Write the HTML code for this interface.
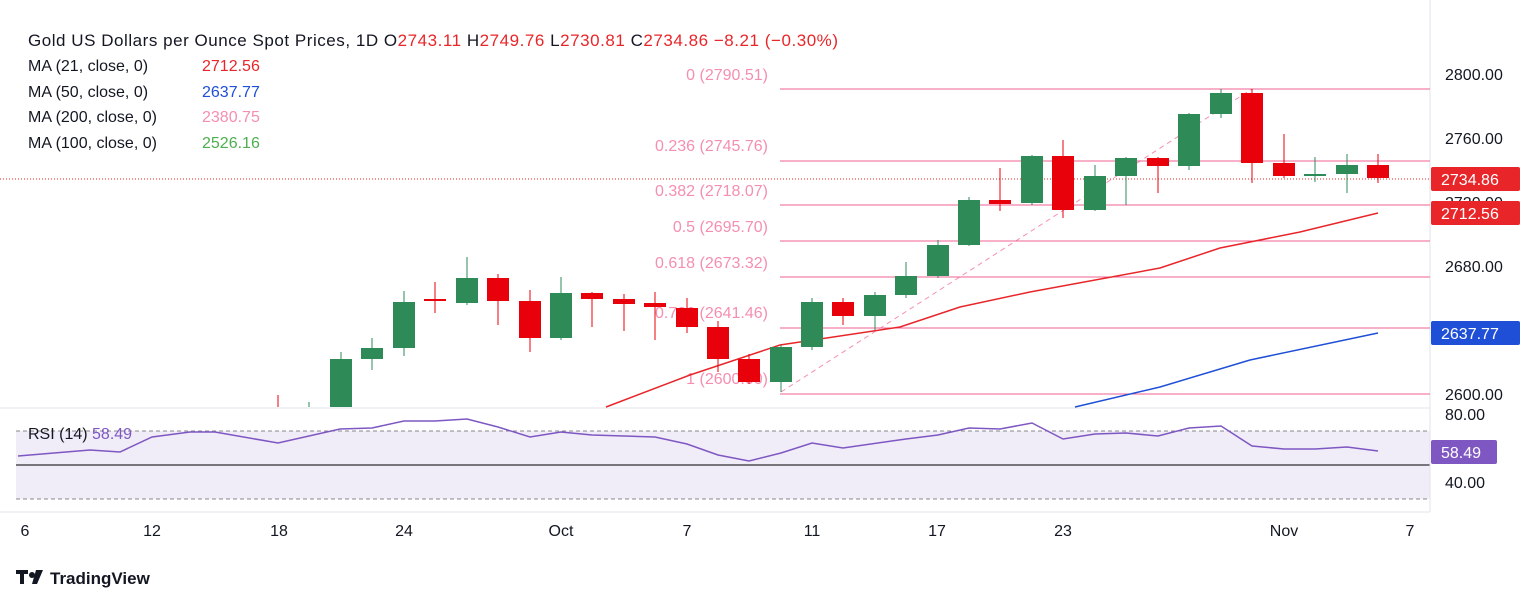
<!DOCTYPE html>
<html><head><meta charset="utf-8"><style>
body{margin:0;background:#fff;font-family:"Liberation Sans",sans-serif}
svg text{font-family:"Liberation Sans",sans-serif}
</style></head><body>
<svg width="1536" height="603" viewBox="0 0 1536 603" xmlns="http://www.w3.org/2000/svg">
<rect width="1536" height="603" fill="#fff"/>
<rect x="16" y="431" width="1414" height="68" fill="#f0ecf8"/>
<line x1="16" y1="431" x2="1430" y2="431" stroke="#888" stroke-dasharray="4,3"/>
<line x1="16" y1="499" x2="1430" y2="499" stroke="#888" stroke-dasharray="4,3"/>
<line x1="16" y1="465" x2="1430" y2="465" stroke="#000" stroke-width="1"/>
<line x1="0" y1="408" x2="1430" y2="408" stroke="#e0e3eb"/>
<line x1="0" y1="512" x2="1430" y2="512" stroke="#e0e3eb"/>
<line x1="1430" y1="0" x2="1430" y2="512" stroke="#e0e3eb"/>
<line x1="0" y1="179" x2="1430" y2="179" stroke="#e8262a" stroke-dasharray="1,2"/>
<g stroke="#f06292" stroke-width="1">
<line x1="780" y1="89" x2="1430" y2="89"/><line x1="780" y1="161" x2="1430" y2="161"/>
<line x1="780" y1="205" x2="1430" y2="205"/><line x1="780" y1="241" x2="1430" y2="241"/>
<line x1="780" y1="277" x2="1430" y2="277"/><line x1="780" y1="328" x2="1430" y2="328"/>
<line x1="780" y1="394" x2="1430" y2="394"/>
<line x1="781" y1="392" x2="1252" y2="89" stroke-dasharray="5,4" opacity="0.7"/>
</g>
<g fill="#f48fb1" font-size="16" text-anchor="end">
<text x="768" y="80">0 (2790.51)</text><text x="768" y="151">0.236 (2745.76)</text>
<text x="768" y="196">0.382 (2718.07)</text><text x="768" y="232">0.5 (2695.70)</text>
<text x="768" y="268">0.618 (2673.32)</text><text x="768" y="318">0.786 (2641.46)</text>
<text x="768" y="384">1 (2600.00)</text>
</g>
<polyline fill="none" stroke="#e8262a" stroke-width="1.5" points="606,407 690,375 780,345 900,327 960,307 1030,292 1160,268 1220,248 1300,232 1378,213"/>
<polyline fill="none" stroke="#1e4fd6" stroke-width="1.5" points="1075,407 1160,387 1250,360 1378,333"/>
<g stroke="#2e8b57" fill="#2e8b57">
<line x1="309" x2="309" y1="402" y2="407"/>
<line x1="341" x2="341" y1="352" y2="407"/><rect x="330" y="359" width="22" height="48" stroke="none"/>
<line x1="372" x2="372" y1="338" y2="370"/><rect x="361" y="348" width="22" height="11" stroke="none"/>
<line x1="404" x2="404" y1="291" y2="356"/><rect x="393" y="302" width="22" height="46" stroke="none"/>
<line x1="467" x2="467" y1="257" y2="305"/><rect x="456" y="278" width="22" height="25" stroke="none"/>
<line x1="561" x2="561" y1="277" y2="340"/><rect x="550" y="293" width="22" height="45" stroke="none"/>
<line x1="781" x2="781" y1="345" y2="392"/><rect x="770" y="347" width="22" height="35" stroke="none"/>
<line x1="812" x2="812" y1="298" y2="350"/><rect x="801" y="302" width="22" height="45" stroke="none"/>
<line x1="875" x2="875" y1="292" y2="330"/><rect x="864" y="295" width="22" height="21" stroke="none"/>
<line x1="906" x2="906" y1="262" y2="298"/><rect x="895" y="276" width="22" height="19" stroke="none"/>
<line x1="938" x2="938" y1="240" y2="278"/><rect x="927" y="245" width="22" height="31" stroke="none"/>
<line x1="969" x2="969" y1="197" y2="246"/><rect x="958" y="200" width="22" height="45" stroke="none"/>
<line x1="1032" x2="1032" y1="155" y2="205"/><rect x="1021" y="156" width="22" height="47" stroke="none"/>
<line x1="1095" x2="1095" y1="165" y2="211"/><rect x="1084" y="176" width="22" height="34" stroke="none"/>
<line x1="1126" x2="1126" y1="157" y2="205"/><rect x="1115" y="158" width="22" height="18" stroke="none"/>
<line x1="1189" x2="1189" y1="113" y2="170"/><rect x="1178" y="114" width="22" height="52" stroke="none"/>
<line x1="1221" x2="1221" y1="89" y2="118"/><rect x="1210" y="93" width="22" height="21" stroke="none"/>
<line x1="1315" x2="1315" y1="157" y2="182"/><rect x="1304" y="174" width="22" height="2" stroke="none"/>
<line x1="1347" x2="1347" y1="154" y2="193"/><rect x="1336" y="165" width="22" height="9" stroke="none"/>
</g>
<g stroke="#e8000b" fill="#e8000b">
<line x1="278" x2="278" y1="395" y2="407"/>
<line x1="435" x2="435" y1="282" y2="313"/><rect x="424" y="299" width="22" height="2" stroke="none"/>
<line x1="498" x2="498" y1="274" y2="325"/><rect x="487" y="278" width="22" height="23" stroke="none"/>
<line x1="530" x2="530" y1="290" y2="352"/><rect x="519" y="301" width="22" height="37" stroke="none"/>
<line x1="592" x2="592" y1="292" y2="327"/><rect x="581" y="293" width="22" height="6" stroke="none"/>
<line x1="624" x2="624" y1="294" y2="331"/><rect x="613" y="299" width="22" height="5" stroke="none"/>
<line x1="655" x2="655" y1="292" y2="340"/><rect x="644" y="303" width="22" height="4" stroke="none"/>
<line x1="687" x2="687" y1="298" y2="333"/><rect x="676" y="308" width="22" height="19" stroke="none"/>
<line x1="718" x2="718" y1="321" y2="372"/><rect x="707" y="327" width="22" height="32" stroke="none"/>
<line x1="749" x2="749" y1="354" y2="384"/><rect x="738" y="359" width="22" height="23" stroke="none"/>
<line x1="843" x2="843" y1="298" y2="325"/><rect x="832" y="302" width="22" height="14" stroke="none"/>
<line x1="1000" x2="1000" y1="168" y2="211"/><rect x="989" y="200" width="22" height="4" stroke="none"/>
<line x1="1063" x2="1063" y1="140" y2="218"/><rect x="1052" y="156" width="22" height="54" stroke="none"/>
<line x1="1158" x2="1158" y1="157" y2="193"/><rect x="1147" y="158" width="22" height="8" stroke="none"/>
<line x1="1252" x2="1252" y1="89" y2="183"/><rect x="1241" y="93" width="22" height="70" stroke="none"/>
<line x1="1284" x2="1284" y1="134" y2="178"/><rect x="1273" y="163" width="22" height="13" stroke="none"/>
<line x1="1378" x2="1378" y1="154" y2="183"/><rect x="1367" y="165" width="22" height="13" stroke="none"/>
</g>
<polyline fill="none" stroke="#7e57c2" stroke-width="1.5" points="18,456 90,450 120,452 152,437 190,432 215,432 278,443 340,429 372,428 404,421 435,421 467,419 498,427 530,437 561,432 592,435 655,437 687,444 718,455 749,461 781,453 812,443 843,448 906,439 938,435 969,428 1000,429 1032,423 1063,439 1095,434 1126,433 1158,436 1189,428 1221,426 1252,446 1284,449 1315,449 1347,447 1378,451"/>
<g font-size="16" fill="#131722">
<text x="1445" y="80">2800.00</text><text x="1445" y="144">2760.00</text>
<text x="1445" y="208">2720.00</text><text x="1445" y="272">2680.00</text>
<text x="1445" y="400">2600.00</text><text x="1445" y="420">80.00</text><text x="1445" y="488">40.00</text>
</g>
<rect x="1431" y="167" width="89" height="24" rx="2" fill="#e8262a"/><text x="1441" y="185" font-size="16" fill="#fff">2734.86</text>
<rect x="1431" y="201" width="89" height="24" rx="2" fill="#e8262a"/><text x="1441" y="219" font-size="16" fill="#fff">2712.56</text>
<rect x="1431" y="321" width="89" height="24" rx="2" fill="#1e4fd6"/><text x="1441" y="339" font-size="16" fill="#fff">2637.77</text>
<rect x="1431" y="440" width="66" height="24" rx="2" fill="#7e57c2"/><text x="1441" y="458" font-size="16" fill="#fff">58.49</text>
<g font-size="16" fill="#131722" text-anchor="middle">
<text x="25" y="536">6</text><text x="152" y="536">12</text><text x="279" y="536">18</text><text x="404" y="536">24</text>
<text x="561" y="536">Oct</text><text x="687" y="536">7</text><text x="812" y="536">11</text><text x="937" y="536">17</text>
<text x="1063" y="536">23</text><text x="1284" y="536">Nov</text><text x="1410" y="536">7</text>
</g>
<text x="28" y="46" font-size="17" fill="#131722" textLength="810" lengthAdjust="spacing">Gold US Dollars per Ounce Spot Prices, 1D  O<tspan fill="#e8262a">2743.11</tspan> H<tspan fill="#e8262a">2749.76</tspan> L<tspan fill="#e8262a">2730.81</tspan> C<tspan fill="#e8262a">2734.86 −8.21 (−0.30%)</tspan></text>
<g font-size="16" fill="#131722">
<text x="28" y="71">MA (21, close, 0) <tspan x="202" fill="#e8262a">2712.56</tspan></text>
<text x="28" y="97">MA (50, close, 0) <tspan x="202" fill="#1e4fd6">2637.77</tspan></text>
<text x="28" y="122">MA (200, close, 0) <tspan x="202" fill="#f48fb1">2380.75</tspan></text>
<text x="28" y="148">MA (100, close, 0) <tspan x="202" fill="#4caf50">2526.16</tspan></text>
<text x="28" y="439">RSI (14) <tspan fill="#7e57c2">58.49</tspan></text>
</g>
<g fill="#131722"><rect x="16" y="570" width="12" height="4"/><rect x="20" y="570" width="4" height="14"/><circle cx="32" cy="575" r="3"/><path d="M36 570h7l-6 14h-5z"/></g>
<text x="50" y="584" font-size="17" font-weight="bold" fill="#131722">TradingView</text>
</svg>
</body></html>
